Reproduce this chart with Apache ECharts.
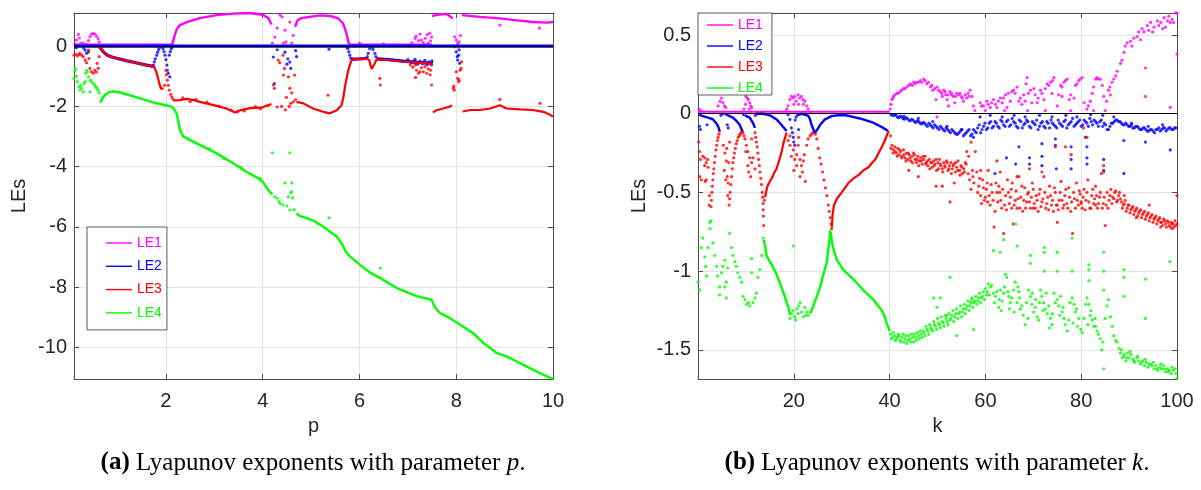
<!DOCTYPE html>
<html><head><meta charset="utf-8">
<script src="https://cdn.jsdelivr.net/npm/echarts@6/dist/echarts.min.js"></script>
<style>html,body{margin:0;padding:0;background:#fff}#c{width:1201px;height:490px}</style>
</head><body><div id="c"></div>
<script>
// ---------- tick labels ----------
const pXTicks = [2, 4, 6, 8, 10];
const pYTicks = [-10, -8, -6, -4, -2, 0];
const kXTicks = [20, 40, 60, 80, 100];
const kYTicks = [-1.5, -1, -0.5, 0, 0.5];
const seriesNames = ['LE1', 'LE2', 'LE3', 'LE4'];
const captionA = '{b|(a)} Lyapunov exponents with parameter {i|p}.';
const captionB = '{b|(b)} Lyapunov exponents with parameter {i|k}.';

// ---------- chart (a): parameter p ----------
const pLE1Curves = [
  [[0.1,0.05],[2.13,0.05]],
  [[2.13,0.05],[2.17,0.3],[2.22,0.55],[2.29,0.7],[2.43,0.8],[2.7,0.93],[3.05,1.03],[3.38,1.08],[3.74,1.1],[4.0,1.04],[4.12,0.93],[4.18,0.72]],
  [[4.67,0.64],[4.72,0.86],[4.8,0.93],[5.0,0.98],[5.2,1.02],[5.4,1.0],[5.56,0.92],[5.66,0.76],[5.73,0.43],[5.77,0.14],[5.8,0.05]],
  [[5.8,0.05],[7.5,0.05]],
  [[7.5,1.0],[7.6,1.04],[7.8,1.07],[7.87,0.99],[7.93,0.92]],
  [[8.12,1.03],[8.49,0.97],[8.9,0.92],[9.17,0.87],[9.58,0.8],[9.87,0.78],[10,0.8]]
];
const pLE1Dots = [[0.12,0.08],[0.15,0.2],[0.19,0.39],[0.21,0.27],[0.24,0.1],[0.29,0.1],[0.35,0.06],[0.4,0.18],[0.43,0.31],[0.46,0.4],[0.5,0.42],[0.53,0.4],[0.57,0.33],[0.6,0.25],[0.62,0.14],
  [4.2,0.1],[4.25,0.3],[4.3,0.6],[4.36,1.03],[4.4,0.97],[4.46,0.53],[4.48,0.14],[4.43,0.1],[4.6,0.1],[4.63,0.36],[4.56,0.8],
  [6.0,0.1],[6.5,0.08],[7.08,0.11],[7.15,0.26],[7.17,0.33],[7.22,0.18],[7.28,0.2],[7.32,0.12],[7.36,0.26],[7.4,0.38],[7.45,0.43],[7.47,0.17],[7.42,0.1],[7.49,0.3],[7.25,0.4],
  [7.97,0.31],[8.0,0.2],[8.03,0.09],[8.06,0.14],[8.09,0.35],[8.9,0.7],[9.72,0.6]];

const pLE2Curves = [
  [[0.1,0],[10,0]],
  [[0.62,-0.01],[0.68,-0.14],[0.74,-0.24],[0.8,-0.31],[0.9,-0.37],[1.0,-0.41],[1.2,-0.49],[1.4,-0.56],[1.6,-0.63],[1.74,-0.67]],
  [[5.84,-0.43],[6.0,-0.42],[6.14,-0.41]],
  [[6.35,-0.42],[6.6,-0.45],[6.9,-0.5],[7.2,-0.54],[7.52,-0.57]]
];
const pLE2Dots = [[0.15,-0.05],[0.3,-0.06],[0.33,-0.13],[0.36,-0.24],[0.4,-0.19],
  [1.74,-0.63],[1.76,-0.52],[1.78,-0.42],[1.81,-0.3],[1.83,-0.2],[1.85,-0.11],[1.88,-0.03],[1.91,-0.01],[1.94,-0.08],[1.96,-0.18],[1.98,-0.3],[2.0,-0.45],[2.02,-0.63],[2.03,-0.8],[2.05,-0.9],[2.08,-1.02],[2.07,-0.3],[2.09,-0.18],[2.11,-0.08],[2.13,-0.03],
  [4.22,-0.36],[4.24,-1.24],[4.3,-0.12],[4.46,-0.2],[4.5,-0.6],[4.56,-0.53],[4.58,-0.74],[4.52,-0.42],[4.7,-0.35],[4.68,-0.15],[5.37,-0.1],
  [5.74,-0.03],[5.76,-0.08],[5.78,-0.19],[5.8,-0.3],[5.82,-0.4],
  [6.16,-0.35],[6.18,-0.24],[6.21,-0.08],[6.25,-0.02],[6.28,-0.11],[6.32,-0.24],[6.34,-0.35],
  [7.0,-0.45],[7.08,-0.55],[7.15,-0.44],[7.2,-0.6],[7.25,-0.5],[7.3,-0.58],[7.35,-0.47],[7.4,-0.62],[7.44,-0.52],[7.48,-0.6],[7.5,-0.49],[7.38,-0.56],[7.12,-0.5],
  [7.97,-0.02],[8.0,-0.19],[8.02,-0.35],[8.03,-0.46],[8.05,-0.3],[8.07,-0.57],[8.06,-0.12]];

const pLE3Curves = [
  [[0.62,-0.01],[0.68,-0.14],[0.74,-0.24],[0.8,-0.31],[0.9,-0.37],[1.0,-0.41],[1.2,-0.49],[1.4,-0.56],[1.6,-0.63],[1.76,-0.69],[1.8,-0.86],[1.84,-1.08],[1.87,-1.27],[1.9,-1.42],[1.92,-1.46],[1.95,-1.4]],
  [[2.15,-1.8],[2.29,-1.79],[2.43,-1.75],[2.57,-1.79],[2.7,-1.85],[2.97,-1.95],[3.25,-2.07],[3.43,-2.2],[3.53,-2.13],[3.74,-2.06],[4.0,-2.03],[4.18,-1.92]],
  [[4.7,-1.85],[4.84,-1.9],[5.04,-2.07],[5.25,-2.18],[5.39,-2.23],[5.53,-2.13],[5.63,-1.96],[5.67,-1.68],[5.7,-1.35],[5.74,-1.02],[5.77,-0.8],[5.8,-0.63],[5.84,-0.45],[6.0,-0.42],[6.14,-0.41],[6.2,-0.46],[6.25,-0.76],[6.28,-0.8],[6.32,-0.57],[6.35,-0.44],[6.6,-0.46],[6.9,-0.51],[7.2,-0.55],[7.52,-0.59]],
  [[7.52,-2.2],[7.59,-2.13],[7.73,-2.07],[7.87,-2.01],[7.91,-1.96]],
  [[8.13,-2.17],[8.3,-2.12],[8.49,-2.12],[8.7,-2.07],[8.9,-1.96],[9.04,-2.07],[9.32,-2.1],[9.59,-2.12],[9.8,-2.18],[9.94,-2.28],[10,-2.34]]
];
const pLE3Dots = [[0.1,-0.3],[0.13,-0.27],[0.17,-0.32],[0.2,-0.28],[0.22,-0.24],[0.26,-0.3],[0.29,-0.35],[0.33,-0.46],[0.36,-0.55],[0.4,-0.13],[0.41,-0.41],[0.43,-0.74],[0.46,-0.85],[0.5,-0.9],[0.53,-0.8],[0.56,-0.86],[0.6,-0.74],[0.58,-0.57],[0.62,-0.35],
  [1.97,-1.3],[2.0,-0.8],[2.01,-0.95],[2.03,-1.13],[2.05,-1.3],[2.07,-1.46],[2.1,-1.6],[2.12,-1.68],[2.14,-1.75],
  [2.35,-1.72],[2.5,-1.84],[2.62,-1.77],[2.85,-1.86],[3.1,-1.99],[3.35,-2.12],[3.48,-2.18],[3.62,-2.15],[3.85,-2.01],[3.95,-2.08],[4.1,-1.98],
  [4.22,-1.29],[4.24,-1.4],[4.3,-2.02],[4.32,-0.46],[4.35,-0.55],[4.39,-2.0],[4.43,-0.96],[4.45,-0.74],[4.47,-2.12],[4.49,-1.7],[4.53,-1.02],[4.55,-2.0],[4.56,-1.4],[4.6,-1.55],[4.63,-1.85],[4.66,-0.96],[4.68,-1.78],[4.42,-0.3],[4.58,-1.9],
  [5.35,-1.63],[6.42,-1.07],[6.43,-1.29],
  [7.05,-0.62],[7.1,-0.7],[7.15,-0.63],[7.16,-1.04],[7.18,-0.8],[7.22,-0.9],[7.25,-0.85],[7.28,-0.72],[7.32,-0.85],[7.35,-0.68],[7.39,-0.9],[7.42,-0.75],[7.46,-0.95],[7.49,-0.63],[7.49,-1.29],[7.47,-0.8],
  [7.94,-1.4],[7.96,-1.46],[7.95,-1.33],[8.0,-0.85],[8.03,-1.07],[8.06,-1.13],[8.05,-1.18],[8.08,-0.8],[8.11,-0.52],[8.1,-0.74],
  [8.9,-1.77],[9.73,-1.9]];

const pLE4Curves = [
  [[0.64,-1.88],[0.7,-1.7],[0.77,-1.58],[0.84,-1.52],[0.91,-1.5],[1.05,-1.54],[1.4,-1.7],[1.74,-1.87],[2.08,-1.99],[2.15,-2.05],[2.19,-2.1],[2.22,-2.23],[2.25,-2.45],[2.29,-2.79],[2.36,-3.0],[2.5,-3.12],[2.7,-3.28],[3.05,-3.56],[3.38,-3.88],[3.67,-4.18],[3.85,-4.33],[4.0,-4.5],[4.08,-4.7],[4.15,-4.84],[4.2,-4.92]],
  [[4.7,-5.55],[4.77,-5.64],[4.91,-5.71],[5.04,-5.79],[5.25,-5.99],[5.39,-6.16],[5.53,-6.32],[5.63,-6.54],[5.7,-6.77],[5.77,-6.93],[6.01,-7.26],[6.22,-7.52],[6.43,-7.7],[6.77,-8.03],[7.18,-8.3],[7.49,-8.42],[7.51,-8.48],[7.55,-8.64],[7.66,-8.86],[7.87,-9.03],[8.14,-9.31],[8.35,-9.53],[8.56,-9.85],[8.83,-10.18],[9.04,-10.3],[9.25,-10.47],[9.52,-10.69],[9.8,-10.91],[10,-11.05]]
];
const pLE4Dots = [[0.1,-1.07],[0.12,-0.8],[0.13,-0.74],[0.15,-1.0],[0.17,-1.18],[0.2,-1.35],[0.22,-1.46],[0.24,-1.3],[0.26,-1.4],[0.29,-1.52],[0.31,-1.24],[0.33,-1.18],[0.34,-0.9],[0.36,-0.8],[0.38,-0.85],[0.4,-1.02],[0.43,-1.52],[0.44,-1.13],[0.46,-1.18],[0.5,-1.24],[0.53,-1.29],[0.55,-1.35],[0.57,-1.4],[0.6,-1.46],[0.62,-1.55],
  [2.45,-3.06],[2.9,-3.4],[3.2,-3.74],[3.55,-4.02],[3.95,-4.4],
  [4.2,-3.54],[4.56,-3.54],[4.46,-4.54],[4.6,-4.54],[4.58,-4.87],[4.6,-4.83],[4.62,-5.04],[4.36,-5.22],[4.42,-5.27],[4.3,-5.05],[4.53,-5.0],[4.5,-5.3],[4.56,-5.44],[4.65,-5.43],[4.25,-5.0],[4.33,-5.15],
  [5.37,-5.7],[6.43,-7.37]];

// ---------- chart (b): parameter k ----------
const kLE1Curves = [[[0,0.012],[40,0.012]]];
const kLE1Dots = [[0.2,0.03],[0.6,0.02],[4.2,0.05],[4.6,0.08],[4.9,0.1],[5.2,0.07],[5.5,0.05],[5.8,0.04],[9.6,0.03],[9.9,0.06],[10.0,0.11],[10.3,0.1],[10.5,0.09],[10.8,0.07],[11.0,0.05],[11.2,0.04],[10.7,0.03],
  [18.5,0.03],[18.8,0.05],[19.2,0.09],[19.5,0.11],[19.8,0.1],[20.2,0.11],[20.5,0.08],[20.9,0.12],[21.2,0.1],[21.6,0.11],[21.9,0.09],[22.3,0.08],[22.7,0.05],[23.0,0.03],[20.0,0.06],[21.0,0.06],[22.0,0.06],
  [40.1,0.03],[40.5,0.09],[40.8,0.11],[41.5,0.13],[42.2,0.14],[42.9,0.16],[43.6,0.17],[44.3,0.19],[45.0,0.2],[45.7,0.2],[46.4,0.21],[47.1,0.22],[47.8,0.19],[48.5,0.17],[49.0,0.15],[49.7,0.09],[49.9,0.17],[50.6,0.14],[51.0,0.11],[51.3,0.15],[51.7,0.12],[52.0,0.09],[52.3,0.05],[52.6,0.14],[53.0,0.12],[53.3,0.11],[53.6,0.07],[54.0,0.13],[54.7,0.13],[55.0,0.11],[55.4,0.08],[56.1,0.1],[56.4,0.13],[56.8,0.15],[57.2,0.11],[57.5,0.05],[57.8,0.02],[49.9,-0.02],
  [40.3,0.06],[40.7,0.1],[41.1,0.12],[41.8,0.13],[42.5,0.15],[43.2,0.16],[44.0,0.18],[44.7,0.18],[45.3,0.19],[46.0,0.2],[46.7,0.2],[47.4,0.21],[48.1,0.2],[48.8,0.18],[49.4,0.16],[50.2,0.15],[50.9,0.13],[51.6,0.14],[52.2,0.12],[52.9,0.13],[53.8,0.11],[54.4,0.12],[55.2,0.1],[55.8,0.12],[56.6,0.11],
  [58.9,0.07],[59.6,0.05],[60.3,0.08],[61.0,0.04],[61.7,0.09],[62.1,0.06],[62.4,0.04],[63.1,0.1],[63.5,0.07],[64.2,0.12],[64.5,0.04],[65.2,0.08],[65.9,0.15],[66.2,0.13],[66.6,0.17],[67.3,0.1],[67.6,0.06],[68.0,0.12],[68.3,0.08],[68.7,0.23],[69.4,0.15],[69.7,0.07],[70.1,0.16],[70.8,0.07],[71.5,0.15],[72.2,0.09],[72.9,0.19],[73.6,0.2],[73.9,0.13],[74.3,0.23],[75.0,0.05],[75.7,0.18],[76.0,0.11],[76.4,0.2],[77.1,0.22],[77.5,0.09],[78.5,0.1],[78.8,0.18],[79.5,0.21],[80.2,0.23],[80.6,0.07],[81.2,0.03],[81.9,0.08],[82.3,0.13],[83.0,0.22],[83.3,0.23],[84.0,0.22],[84.4,0.18],[84.7,0.11],[85.0,0.02],[85.7,0.15],[86.1,0.12],[86.4,0.2],[86.8,0.22],
  [59.2,0.05],[60.6,0.06],[61.3,0.07],[62.7,0.08],[63.8,0.1],[64.8,0.13],[65.5,0.14],[67.0,0.08],[68.5,0.19],[69.0,0.13],[70.4,0.12],[71.0,0.1],[71.8,0.13],[72.5,0.16],[73.2,0.18],[74.0,0.21],[75.3,0.12],[76.0,0.17],[76.7,0.21],[77.8,0.12],[79.1,0.19],[79.8,0.22],[81.5,0.05],[82.6,0.17],[83.6,0.22],[85.3,0.08],[86.0,0.17],
  [60.0,0.02],[64.0,0.02],[68.8,0.02],[72.5,0.02],[77.8,0.02],[82.6,0.02],
  [87.2,0.24],[87.5,0.27],[88.2,0.32],[88.5,0.34],[88.9,0.39],[89.2,0.43],[89.6,0.45],[90.3,0.46],[90.6,0.43],[91.0,0.48],[91.7,0.49],[92.0,0.52],[92.4,0.47],[92.7,0.54],[93.1,0.52],[93.8,0.56],[94.1,0.53],[94.5,0.58],[94.9,0.52],[95.2,0.55],[95.9,0.59],[96.2,0.56],[96.6,0.58],[97.0,0.54],[97.3,0.61],[97.6,0.55],[98.0,0.59],[98.3,0.62],[98.6,0.58],[99.0,0.6],[99.3,0.58],[99.7,0.64],[100,0.64],
  [93.4,0.29],[93.4,0.11],[98.6,0.04],[100,0.38]];

const kLE2Curves = [
  [[0.2,-0.005],[1.0,-0.015],[2.1,-0.025],[3.1,-0.035],[3.8,-0.06],[4.2,-0.08],[4.5,-0.11]],
  [[5.6,0],[6.6,-0.015],[7.3,-0.025],[8.0,-0.045],[8.7,-0.07],[9.1,-0.1],[9.3,-0.11]],
  [[9.8,-0.01],[10.8,-0.025],[11.5,-0.06],[11.9,-0.09]],
  [[12.2,0],[13.6,0],[15.0,-0.01],[16.4,-0.036],[17.4,-0.07],[18.1,-0.095],[18.5,-0.11]],
  [[20.6,-0.01],[21.6,0],[22.3,-0.005],[23.1,-0.015],[23.4,-0.036],[23.7,-0.07],[24.1,-0.1],[24.4,-0.12]],
  [[24.4,-0.12],[24.8,-0.105],[25.5,-0.07],[26.5,-0.036],[27.9,-0.015],[29.0,-0.01],[31.0,-0.01],[33.8,-0.03],[36.6,-0.057],[38.7,-0.09],[39.7,-0.11]]
];
const kLE2Dots = [[0.3,-0.08],[0.5,-0.1],[1.9,-0.07],[6.1,-0.07],[6.3,-0.09],[4.8,-0.01],[5.2,0],[9.5,-0.005],[12.0,-0.01],
  [18.8,-0.005],[19.2,-0.036],[19.5,-0.09],[19.7,-0.12],[19.9,-0.15],[20.0,-0.18],[20.2,-0.2],[20.3,-0.04],[20.5,-0.02],[21.0,-0.1],
  [40.3,-0.005],[41.0,-0.01],[41.6,-0.02],[42.2,-0.015],[42.8,-0.03],[43.4,-0.025],[44.0,-0.04],[44.6,-0.035],[45.2,-0.05],[45.8,-0.045],[46.4,-0.06],[47.0,-0.055],[47.6,-0.07],[48.2,-0.06],[48.8,-0.08],[49.4,-0.07],[50.0,-0.09],[50.6,-0.08],[51.2,-0.1],[51.8,-0.09],[52.4,-0.11],[53.0,-0.1],[53.6,-0.12],[54.2,-0.13],[54.8,-0.11],[55.4,-0.14],[56.0,-0.12],[56.6,-0.1],[57.2,-0.13],[57.8,-0.11],[58.4,-0.09],[59.0,-0.12],[59.6,-0.08],[60.2,-0.1],[60.8,-0.06],[61.4,-0.09],[62.0,-0.05],[62.6,-0.08],[63.2,-0.04],[63.8,-0.07],[64.4,-0.05],[65.0,-0.08],[65.6,-0.03],[66.2,-0.06],[66.8,-0.09],[67.4,-0.05],[68.0,-0.07],[68.6,-0.04],[69.2,-0.08],[69.8,-0.05],[70.4,-0.07],[71.0,-0.1],[71.6,-0.06],[72.2,-0.08],[72.8,-0.05],[73.4,-0.09],[74.0,-0.06],[74.6,-0.08],[75.2,-0.04],[75.8,-0.07],[76.4,-0.05],[77.0,-0.09],[77.6,-0.06],[78.2,-0.03],[78.8,-0.07],[79.4,-0.05],[80.0,-0.08],[80.6,-0.04],[81.2,-0.06],[81.8,-0.03],[82.4,-0.07],[83.0,-0.05],[83.6,-0.08],[84.2,-0.04],[84.8,-0.06],[85.4,-0.1],[86.0,-0.08],[86.6,-0.06],[87.2,-0.04],[87.8,-0.05],[88.4,-0.06],[89.0,-0.07],[89.6,-0.07],[90.2,-0.08],[90.8,-0.09],[91.4,-0.08],[92.0,-0.09],[92.6,-0.1],[93.2,-0.09],[93.8,-0.11],[94.4,-0.1],[95.0,-0.11],[95.6,-0.1],[96.2,-0.09],[96.8,-0.1],[97.4,-0.09],[98.0,-0.1],[98.6,-0.09],[99.2,-0.1],[99.8,-0.09],
  [40.6,-0.01],[41.3,-0.005],[41.9,-0.025],[42.5,-0.02],[43.1,-0.035],[43.7,-0.03],[44.3,-0.045],[44.9,-0.04],[45.5,-0.055],[46.1,-0.05],[46.7,-0.065],[47.3,-0.06],[47.9,-0.08],[48.5,-0.07],[49.1,-0.09],[49.7,-0.08],[50.3,-0.1],[50.9,-0.09],[51.5,-0.11],[52.1,-0.1],[52.7,-0.12],[53.3,-0.11],[53.9,-0.13],[54.5,-0.12],[55.1,-0.1],[55.7,-0.13],[56.3,-0.11],[56.9,-0.14],[57.5,-0.1],[58.1,-0.12],[58.7,-0.07],[59.3,-0.1],[59.9,-0.06],[60.5,-0.09],[61.1,-0.05],[61.7,-0.08],[62.3,-0.06],[62.9,-0.09],[63.5,-0.05],[64.1,-0.08],[64.7,-0.04],[65.3,-0.07],[65.9,-0.05],[66.5,-0.08],[67.1,-0.04],[67.7,-0.09],[68.3,-0.06],[68.9,-0.05],[69.5,-0.09],[70.1,-0.06],[70.7,-0.04],[71.3,-0.08],[71.9,-0.05],[72.5,-0.09],[73.1,-0.06],[73.7,-0.04],[74.3,-0.07],[74.9,-0.09],[75.5,-0.06],[76.1,-0.08],[76.7,-0.04],[77.3,-0.07],[77.9,-0.05],[78.5,-0.08],[79.1,-0.06],[79.7,-0.04],[80.3,-0.07],[80.9,-0.05],[81.5,-0.08],[82.1,-0.05],[82.7,-0.04],[83.3,-0.06],[83.9,-0.05],[84.5,-0.08],[85.1,-0.07],[85.7,-0.1],[86.3,-0.06],[86.9,-0.05],[87.5,-0.04],[88.1,-0.05],[88.7,-0.07],[89.3,-0.06],[89.9,-0.08],[90.5,-0.07],[91.1,-0.09],[91.7,-0.08],[92.3,-0.1],[92.9,-0.09],[93.5,-0.1],[94.1,-0.11],[94.7,-0.1],[95.3,-0.12],[95.9,-0.1],[96.5,-0.11],[97.1,-0.09],[97.7,-0.11],[98.3,-0.09],[98.9,-0.1],[99.5,-0.09],
  [43.0,-0.015],[46.0,-0.03],[49.0,-0.05],[52.0,-0.08],[55.0,-0.1],[58.9,-0.02],[61.0,-0.01],[63.5,-0.02],[66.0,-0.01],[68.3,-0.02],[71.3,-0.01],[73.9,-0.02],[76.8,-0.01],[79.1,-0.02],[82.0,-0.005],[84.5,-0.01],[86.8,-0.02],[90.5,-0.06],[94.0,-0.08],[97.0,-0.07],
  [57.5,-0.15],[62.0,-0.38],[64.4,-0.28],[66.3,-0.32],[67.0,-0.21],[69.2,-0.28],[69.2,-0.32],[71.8,-0.19],[71.8,-0.27],[71.8,-0.33],[74.6,-0.16],[74.6,-0.2],[74.8,-0.35],[77.9,-0.21],[77.9,-0.29],[77.9,-0.35],[80.9,-0.15],[81.2,-0.21],[81.2,-0.28],[81.2,-0.32],[84.7,-0.29],[84.7,-0.36],[88.9,-0.17],[88.9,-0.38],[93.4,-0.18],[98.6,-0.23]];

const kLE3Curves = [
  [[14.0,-0.53],[14.4,-0.47],[14.8,-0.44],[15.4,-0.41],[16.0,-0.37],[16.4,-0.35],[16.9,-0.3],[17.4,-0.25],[17.8,-0.19],[18.1,-0.16],[18.5,-0.12]],
  [[27.95,-0.72],[28.1,-0.64],[28.4,-0.58],[29.0,-0.54],[30.0,-0.5],[31.4,-0.44],[32.5,-0.41],[33.5,-0.39],[34.5,-0.36],[35.6,-0.34],[36.4,-0.31],[37.0,-0.29],[37.7,-0.25],[38.4,-0.21],[39.0,-0.17],[39.4,-0.14],[39.8,-0.11]]
];
const kLE3Dots = [[0.15,-0.18],[0.3,-0.24],[0.35,-0.4],[0.5,-0.29],[0.7,-0.42],[1.0,-0.27],[1.4,-0.28],[1.4,-0.33],[1.7,-0.31],[1.7,-0.42],[2.1,-0.34],[2.0,-0.29],[1.5,-0.43],[2.3,-0.58],[2.4,-0.52],
  [2.7,-0.59],[2.8,-0.55],[2.9,-0.5],[3.0,-0.46],[3.1,-0.42],[3.2,-0.38],[3.3,-0.35],[3.45,-0.31],[3.6,-0.27],[3.75,-0.23],[3.9,-0.2],[4.05,-0.17],[4.2,-0.15],[4.35,-0.13],[4.5,-0.11],
  [5.3,-0.2],[5.6,-0.25],[5.5,-0.36],[5.9,-0.3],[6.1,-0.4],[6.3,-0.44],[6.4,-0.31],[6.6,-0.18],[6.2,-0.52],[6.0,-0.22],[5.8,-0.42],
  [6.5,-0.58],[6.6,-0.54],[6.7,-0.5],[6.85,-0.45],[7.0,-0.4],[7.15,-0.35],[7.3,-0.31],[7.45,-0.28],[7.6,-0.25],[7.8,-0.22],[8.0,-0.19],[8.2,-0.17],[8.4,-0.15],[8.6,-0.14],[8.8,-0.13],[9.0,-0.12],[9.2,-0.11],
  [9.4,-0.12],[9.6,-0.14],[9.8,-0.16],[10.1,-0.2],[10.4,-0.24],[10.8,-0.28],[11.2,-0.31],[10.0,-0.24],[10.4,-0.33],[11.5,-0.28],[11.9,-0.35],[11.2,-0.16],[10.6,-0.37],[11.0,-0.4],
  [11.9,-0.12],[12.05,-0.15],[12.2,-0.18],[12.35,-0.21],[12.5,-0.25],[12.65,-0.29],[12.8,-0.33],[12.95,-0.37],[13.1,-0.41],[13.25,-0.45],[13.4,-0.5],[13.5,-0.53],[13.6,-0.57],[13.62,-0.61],[13.65,-0.65],[13.7,-0.71],[13.85,-0.55],
  [18.8,-0.17],[19.2,-0.2],[19.5,-0.27],[19.9,-0.23],[20.2,-0.29],[20.6,-0.33],[20.6,-0.26],[20.9,-0.2],[21.3,-0.29],[21.6,-0.33],[21.8,-0.37],[22.0,-0.3],[22.2,-0.26],[21.3,-0.4],[22.7,-0.2],[23.0,-0.16],[23.4,-0.14],[23.7,-0.13],[24.0,-0.12],[19.2,-0.14],[20.0,-0.36],[22.4,-0.43],[21.0,-0.15],
  [24.5,-0.13],[24.8,-0.16],[25.1,-0.22],[25.4,-0.28],[25.7,-0.32],[26.0,-0.37],[26.3,-0.42],[26.6,-0.47],[26.9,-0.52],[27.2,-0.58],[27.4,-0.62],[27.6,-0.66],[27.8,-0.7],[27.9,-0.73],
  [40.2,-0.14],[40.5,-0.2],[40.8,-0.23],[41.1,-0.21],[41.4,-0.25],[41.7,-0.22],[42.0,-0.26],[42.3,-0.24],[42.6,-0.27],[42.9,-0.23],[43.2,-0.28],[43.5,-0.25],[43.8,-0.29],[44.1,-0.26],[44.4,-0.3],[44.7,-0.27],[45.0,-0.25],[45.3,-0.29],[45.6,-0.31],[45.9,-0.27],[46.2,-0.3],[46.5,-0.28],[46.8,-0.32],[47.1,-0.29],[47.4,-0.27],[47.7,-0.31],[48.0,-0.33],[48.3,-0.29],[48.6,-0.31],[48.9,-0.34],[49.2,-0.3],[49.5,-0.32],[49.8,-0.36],[50.1,-0.31],[50.4,-0.29],[50.7,-0.33],[51.0,-0.35],[51.3,-0.31],[51.6,-0.34],[51.9,-0.3],[52.2,-0.36],[52.5,-0.33],[52.8,-0.31],[53.1,-0.35],[53.4,-0.32],[53.7,-0.37],[54.0,-0.34],[54.3,-0.3],[54.6,-0.36],[54.9,-0.33],[55.2,-0.38],[55.5,-0.35],[55.8,-0.31],[56.1,-0.24],[56.4,-0.38],[56.7,-0.42],[57.0,-0.18],[57.3,-0.36],[57.6,-0.44],[57.9,-0.24],
  [40.3,-0.22],[40.7,-0.25],[41.2,-0.24],[41.6,-0.27],[42.1,-0.23],[42.5,-0.28],[43.0,-0.26],[43.4,-0.3],[43.9,-0.25],[44.3,-0.28],[44.8,-0.31],[45.2,-0.26],[45.7,-0.29],[46.1,-0.33],[46.6,-0.3],[47.0,-0.27],[47.5,-0.32],[47.9,-0.3],[48.4,-0.35],[48.8,-0.31],[49.3,-0.33],[49.7,-0.29],[50.2,-0.35],[50.6,-0.32],[51.1,-0.37],[51.5,-0.33],[52.0,-0.31],[52.4,-0.35],[52.9,-0.38],[53.3,-0.33],[53.8,-0.31],[54.2,-0.36],[54.7,-0.39],[55.1,-0.34],[55.6,-0.37],[56.0,-0.32],[56.5,-0.27],[57.4,-0.4],
  [49.7,-0.46],[51.0,-0.46],[52.6,-0.56],[53.5,-0.44],[46.0,-0.4],[44.0,-0.36],[57.0,-0.48],
  [58.2,-0.37],[58.6,-0.46],[59.0,-0.52],[59.4,-0.42],[59.8,-0.55],[60.2,-0.48],[60.6,-0.36],[61.0,-0.58],[61.4,-0.5],[61.8,-0.72],[62.2,-0.44],[62.6,-0.56],[63.0,-0.5],[63.4,-0.6],[63.8,-0.76],[64.2,-0.52],[64.6,-0.42],[65.0,-0.57],[65.4,-0.48],[65.8,-0.7],[66.2,-0.55],[66.6,-0.6],[67.0,-0.4],[67.4,-0.53],[67.8,-0.62],[68.2,-0.47],[68.6,-0.56],[69.0,-0.5],[69.4,-0.6],[69.8,-0.44],[70.2,-0.57],[70.6,-0.52],[71.0,-0.62],[71.4,-0.48],[71.8,-0.56],[72.2,-0.4],[72.6,-0.6],[73.0,-0.53],[73.4,-0.46],[73.8,-0.58],[74.2,-0.62],[74.6,-0.5],[75.0,-0.69],[75.4,-0.55],[75.8,-0.43],[76.2,-0.6],[76.6,-0.52],[77.0,-0.57],[77.4,-0.47],[77.8,-0.62],[78.2,-0.76],[78.6,-0.54],[79.0,-0.44],[79.4,-0.58],[79.8,-0.51],[80.2,-0.6],[80.6,-0.48],[81.0,-0.55],[81.4,-0.42],[81.8,-0.6],[82.2,-0.52],[82.6,-0.57],[83.0,-0.46],[83.4,-0.6],[83.8,-0.53],[84.2,-0.38],[84.6,-0.57],[85.0,-0.71],[85.4,-0.5],[85.8,-0.55],[86.2,-0.48],[86.6,-0.53],[87.0,-0.5],[87.4,-0.56],[87.8,-0.52],
  [58.4,-0.5],[58.8,-0.41],[59.2,-0.57],[59.6,-0.47],[60.0,-0.53],[60.4,-0.44],[60.8,-0.52],[61.2,-0.45],[61.6,-0.55],[62.0,-0.62],[62.4,-0.5],[62.8,-0.46],[63.2,-0.55],[63.6,-0.48],[64.0,-0.58],[64.4,-0.61],[64.8,-0.5],[65.2,-0.53],[65.6,-0.44],[66.0,-0.58],[66.4,-0.49],[66.8,-0.54],[67.2,-0.6],[67.6,-0.46],[68.0,-0.55],[68.4,-0.6],[68.8,-0.51],[69.2,-0.56],[69.6,-0.53],[70.0,-0.48],[70.4,-0.6],[70.8,-0.55],[71.2,-0.51],[71.6,-0.59],[72.0,-0.54],[72.4,-0.5],[72.8,-0.57],[73.2,-0.61],[73.6,-0.52],[74.0,-0.55],[74.4,-0.47],[74.8,-0.58],[75.2,-0.61],[75.6,-0.5],[76.0,-0.55],[76.4,-0.58],[76.8,-0.48],[77.2,-0.6],[77.6,-0.53],[78.0,-0.56],[78.4,-0.5],[78.8,-0.6],[79.2,-0.55],[79.6,-0.49],[80.0,-0.57],[80.4,-0.53],[80.8,-0.61],[81.2,-0.5],[81.6,-0.56],[82.0,-0.6],[82.4,-0.48],[82.8,-0.54],[83.2,-0.52],[83.6,-0.57],[84.0,-0.5],[84.4,-0.6],[84.8,-0.53],[85.2,-0.58],[85.6,-0.6],[86.0,-0.52],[86.4,-0.57],[86.8,-0.54],[87.2,-0.49],[87.6,-0.55],
  [63.1,-0.37],[66.6,-0.4],[71.8,-0.37],[74.6,-0.21],[76.7,-0.21],[77.9,-0.26],[80.5,-0.09],[81.2,-0.15],[84.7,-0.37],[84.7,-0.33],[69.2,-0.35],[62.4,-0.3],[59.0,-0.36],[60.5,-0.56],[65.5,-0.6],[70.0,-0.6],[75.0,-0.58],[80.0,-0.56],[83.0,-0.58],
  [88.0,-0.5],[88.4,-0.56],[88.8,-0.58],[89.2,-0.55],[89.6,-0.6],[90.0,-0.58],[90.4,-0.61],[90.8,-0.59],[91.2,-0.62],[91.6,-0.6],[92.0,-0.63],[92.4,-0.61],[92.8,-0.64],[93.2,-0.62],[93.6,-0.65],[94.0,-0.63],[94.4,-0.66],[94.8,-0.64],[95.2,-0.67],[95.6,-0.65],[96.0,-0.68],[96.4,-0.66],[96.8,-0.69],[97.2,-0.67],[97.6,-0.7],[98.0,-0.68],[98.4,-0.71],[98.8,-0.69],[99.2,-0.7],[99.6,-0.68],[100,-0.7],[100,-0.52],[89.0,-0.52],[91.5,-0.66],[94.2,-0.58],[96.6,-0.72],[99.0,-0.73],
  [88.2,-0.54],[88.6,-0.6],[89.0,-0.57],[89.4,-0.62],[89.8,-0.58],[90.2,-0.63],[90.6,-0.6],[91.0,-0.64],[91.4,-0.61],[91.8,-0.65],[92.2,-0.62],[92.6,-0.66],[93.0,-0.63],[93.4,-0.67],[93.8,-0.64],[94.2,-0.68],[94.6,-0.65],[95.0,-0.69],[95.4,-0.66],[95.8,-0.7],[96.2,-0.67],[96.6,-0.69],[97.0,-0.71],[97.4,-0.68],[97.8,-0.72],[98.2,-0.69],[98.6,-0.72],[99.0,-0.7],[99.4,-0.72],[99.8,-0.71]];

const kLE4Curves = [
  [[13.7,-0.8],[14.0,-0.84],[14.3,-0.9],[14.8,-0.93],[15.4,-0.96],[16.4,-1.02],[17.4,-1.1],[18.0,-1.15],[18.5,-1.2],[18.8,-1.22],[19.2,-1.28]],
  [[23.5,-1.27],[23.7,-1.25],[24.8,-1.16],[25.5,-1.1],[26.2,-1.02],[26.9,-0.94],[27.2,-0.86],[27.5,-0.79],[27.6,-0.74]],
  [[27.7,-0.75],[28.0,-0.82],[28.2,-0.85],[29.0,-0.93],[30.3,-0.99],[32.4,-1.05],[34.5,-1.12],[36.6,-1.18],[37.6,-1.22],[38.4,-1.25],[39.0,-1.29],[39.4,-1.33],[40.0,-1.38]]
];
const kLE4Dots = [[0,-1.07],[0.35,-1.12],[0.7,-0.85],[1.0,-0.79],[1.4,-0.91],[1.6,-0.97],[1.8,-1.03],[2.1,-0.85],[2.5,-0.69],[2.7,-0.68],[2.5,-0.73],[3.1,-0.82],[3.5,-0.9],[3.9,-0.97],[4.1,-1.03],[4.5,-1.1],[4.5,-1.15],[4.9,-1.01],[5.2,-0.97],[5.6,-0.93],[5.9,-1.07],[5.9,-1.17],[5.6,-1.1],[6.2,-0.98],[6.6,-0.76],[7.0,-0.85],[7.3,-0.9],[7.7,-0.94],[8.0,-0.97],[8.3,-1.01],[8.7,-1.04],[9.1,-1.07],[9.4,-1.16],[9.8,-1.18],[10.1,-1.21],[10.5,-1.2],[10.8,-1.22],[11.5,-1.2],[11.9,-1.17],[11.2,-1.01],[11.2,-0.92],[12.2,-1.14],[12.5,-1.04],[12.9,-0.99],[13.3,-0.9],[13.6,-0.79],
  [19.2,-1.3],[19.5,-1.27],[19.8,-1.25],[20.2,-1.29],[20.6,-1.24],[20.9,-1.27],[21.3,-1.2],[21.6,-1.26],[22.0,-1.29],[22.3,-1.23],[22.7,-1.26],[23.0,-1.28],[23.4,-1.26],[19.9,-0.84],[21.0,-1.22],[20.4,-1.31],[22.5,-1.28],
  [40.2,-1.4],[40.6,-1.42],[41.0,-1.41],[41.4,-1.43],[41.8,-1.4],[42.2,-1.44],[42.6,-1.42],[43.0,-1.45],[43.4,-1.41],[43.8,-1.44],[44.2,-1.43],[44.6,-1.4],[45.0,-1.45],[45.4,-1.42],[45.8,-1.39],[46.2,-1.43],[46.6,-1.4],[47.0,-1.38],[47.4,-1.41],[47.8,-1.37],[48.2,-1.4],[48.6,-1.36],[49.0,-1.38],[49.4,-1.34],[49.8,-1.37],[50.2,-1.33],[50.6,-1.36],[51.0,-1.32],[51.4,-1.35],[51.8,-1.3],[52.2,-1.34],[52.6,-1.31],[53.0,-1.28],[53.4,-1.32],[53.8,-1.27],[54.2,-1.3],[54.6,-1.26],[55.0,-1.29],[55.4,-1.24],[55.8,-1.27],[56.2,-1.22],[56.6,-1.25],[57.0,-1.2],[57.4,-1.23],[57.8,-1.19],[58.2,-1.21],[58.6,-1.17],[59.0,-1.2],[59.4,-1.16],[59.8,-1.18],[60.2,-1.15],[60.6,-1.08],
  [40.4,-1.43],[40.8,-1.39],[41.2,-1.44],[41.6,-1.42],[42.0,-1.41],[42.4,-1.45],[42.8,-1.4],[43.2,-1.43],[43.6,-1.46],[44.0,-1.41],[44.4,-1.45],[44.8,-1.42],[45.2,-1.4],[45.6,-1.44],[46.0,-1.41],[46.4,-1.38],[46.8,-1.42],[47.2,-1.39],[47.6,-1.35],[48.0,-1.38],[48.4,-1.34],[48.8,-1.37],[49.2,-1.32],[49.6,-1.35],[50.0,-1.3],[50.4,-1.34],[50.8,-1.29],[51.2,-1.33],[51.6,-1.28],[52.0,-1.32],[52.4,-1.27],[52.8,-1.3],[53.2,-1.25],[53.6,-1.29],[54.0,-1.24],[54.4,-1.27],[54.8,-1.22],[55.2,-1.26],[55.6,-1.21],[56.0,-1.24],[56.4,-1.19],[56.8,-1.22],[57.2,-1.17],[57.6,-1.2],[58.0,-1.16],[58.4,-1.19],[58.8,-1.14],[59.2,-1.17],[59.6,-1.13],[60.0,-1.11],[60.4,-1.13],
  [49.2,-1.17],[50.6,-1.17],[52.6,-1.04],[49.9,-1.23],[51.9,-1.28],[54.0,-1.41],[57.5,-1.37],[57.2,-1.18],
  [61.0,-1.1],[61.7,-1.14],[62.1,-1.16],[62.8,-1.23],[63.1,-1.12],[63.5,-1.19],[63.8,-1.14],[64.2,-1.02],[64.5,-1.04],[64.9,-1.16],[65.2,-1.2],[65.9,-1.12],[66.2,-1.07],[66.6,-1.2],[67.0,-1.13],[67.3,-1.24],[67.6,-1.22],[68.3,-1.34],[69.0,-1.12],[69.4,-1.16],[69.7,-1.21],[70.1,-1.26],[70.8,-1.29],[71.5,-1.12],[71.8,-1.16],[72.2,-1.2],[72.5,-1.24],[72.9,-1.27],[73.6,-1.3],[73.9,-1.34],[74.3,-1.14],[75.0,-1.18],[75.3,-1.22],[76.0,-1.26],[76.4,-1.3],[76.7,-1.34],[77.1,-1.38],[78.1,-1.17],[78.5,-1.21],[78.8,-1.26],[79.5,-1.3],[79.9,-1.37],[80.2,-1.39],[81.2,-1.17],[81.6,-1.21],[81.9,-1.28],[82.3,-1.31],[82.6,-1.35],[83.3,-1.38],[84.0,-1.43],[84.3,-1.5],[84.7,-1.62],
  [60.8,-1.15],[61.3,-1.09],[61.9,-1.2],[62.4,-1.13],[62.9,-1.18],[63.3,-1.25],[64.0,-1.1],[64.7,-1.13],[65.0,-1.24],[65.5,-1.17],[66.0,-1.26],[66.8,-1.1],[67.1,-1.17],[67.9,-1.28],[68.6,-1.2],[68.9,-1.3],[69.8,-1.14],[70.4,-1.23],[70.5,-1.18],[71.1,-1.31],[71.3,-1.2],[72.0,-1.25],[72.7,-1.14],[73.2,-1.22],[73.4,-1.36],[74.0,-1.27],[74.6,-1.2],[75.5,-1.28],[75.7,-1.16],[76.2,-1.23],[77.4,-1.31],[77.7,-1.2],[78.3,-1.33],[79.0,-1.24],[79.2,-1.35],[80.6,-1.3],[80.9,-1.21],[81.4,-1.34],[82.0,-1.25],[82.9,-1.3],[83.6,-1.4],[83.0,-1.35],[84.5,-1.45],[85.0,-1.3],
  [63.1,-0.88],[61.7,-0.87],[63.8,-0.8],[66.6,-0.84],[66.3,-0.7],[69.4,-0.9],[69.4,-0.95],[72.3,-0.85],[72.3,-0.88],[72.3,-1.0],[75.0,-0.88],[75.0,-1.0],[78.1,-0.79],[78.1,-1.0],[81.6,-0.96],[81.6,-0.99],[81.6,-1.06],[84.7,-0.88],[84.7,-1.0],[84.7,-1.12],[88.9,-0.99],[88.9,-1.04],[88.9,-1.16],[93.4,-1.05],[93.4,-1.3],[98.5,-0.94],
  [85.4,-1.22],[85.7,-1.18],[86.1,-1.29],[86.5,-1.35],[86.8,-1.41],[87.2,-1.44],[87.5,-1.45],[87.9,-1.49],[88.2,-1.52],[88.6,-1.55],[88.9,-1.54],[89.3,-1.57],[89.7,-1.52],[90.0,-1.55],[90.4,-1.53],[90.8,-1.56],[91.2,-1.58],[91.6,-1.55],[92.0,-1.57],[92.4,-1.59],[92.8,-1.57],[93.2,-1.6],[93.6,-1.58],[94.0,-1.61],[94.4,-1.59],[94.8,-1.6],[95.2,-1.62],[95.6,-1.6],[96.0,-1.63],[96.4,-1.61],[96.8,-1.62],[97.2,-1.6],[97.6,-1.64],[98.0,-1.62],[98.4,-1.63],[98.8,-1.65],[99.2,-1.63],[99.6,-1.62],[100,-1.68],
  [88.4,-1.5],[89.0,-1.53],[89.5,-1.55],[90.2,-1.51],[91.0,-1.57],[91.8,-1.54],[92.6,-1.58],[93.4,-1.56],[94.2,-1.59],[95.0,-1.58],[95.8,-1.62],[96.6,-1.59],[97.4,-1.62],[98.2,-1.64],[99.0,-1.61],[99.8,-1.65]];

// ---------- styling ----------
const colors = {LE1:'#ff00ff', LE2:'#0000ff', LE3:'#ff0000', LE4:'#00ff00'};
const AX = '#4d4d4d', TXT = '#262626', GRID = '#e3e3e3';
const SANS = 'Liberation Sans, Arial, sans-serif';
const SERIF = 'Liberation Serif, Times New Roman, serif';

const series = [];
function addCurves(segs, name, gi, width) {
  segs.forEach(seg => series.push({type:'line', name, xAxisIndex:gi, yAxisIndex:gi, data:seg,
    symbol:'none', showSymbol:false, silent:true, animation:false,
    lineStyle:{color:colors[name], width}, itemStyle:{color:colors[name]}}));
}
function addDots(pts, name, gi, extra) {
  series.push(Object.assign({type:'scatter', name, xAxisIndex:gi, yAxisIndex:gi, data:pts,
    symbol:'circle', symbolSize:3.2, silent:true, animation:false,
    itemStyle:{color:colors[name]}}, extra || {}));
}
const zeroLine = {markLine:{symbol:['none','none'], silent:true, animation:false, label:{show:false},
  lineStyle:{color:'#000', width:1, type:'solid'}, data:[{yAxis:0}]}};

// chart (a)
addCurves(pLE1Curves, 'LE1', 0, 2.4); addDots(pLE1Dots, 'LE1', 0);
addCurves(pLE2Curves, 'LE2', 0, 3.2); addDots(pLE2Dots, 'LE2', 0);
addCurves(pLE3Curves, 'LE3', 0, 2.2); addDots(pLE3Dots, 'LE3', 0);
addCurves(pLE4Curves, 'LE4', 0, 2.4); addDots(pLE4Dots, 'LE4', 0, zeroLine);
// chart (b)
addCurves(kLE1Curves, 'LE1', 1, 2); addDots(kLE1Dots, 'LE1', 1);
addCurves(kLE2Curves, 'LE2', 1, 2.4); addDots(kLE2Dots, 'LE2', 1);
addCurves(kLE3Curves, 'LE3', 1, 2.2); addDots(kLE3Dots, 'LE3', 1);
addCurves(kLE4Curves, 'LE4', 1, 2.4); addDots(kLE4Dots, 'LE4', 1, zeroLine);

function xAxisMain(gi, min, max, ticks, name) {
  return {type:'value', gridIndex:gi, min, max, position:'bottom',
    name, nameLocation:'middle', nameGap:37, nameTextStyle:{fontSize:20, color:TXT, fontFamily:SANS},
    axisLine:{show:true, onZero:false, lineStyle:{color:AX, width:1}},
    axisTick:{show:true, inside:true, length:5, customValues:ticks, lineStyle:{color:AX}},
    axisLabel:{customValues:ticks, color:TXT, fontSize:20, fontFamily:SANS, margin:12},
    splitLine:{show:true, lineStyle:{color:GRID, width:1}}};
}
function xAxisTop(gi, min, max, ticks) {
  return {type:'value', gridIndex:gi, min, max, position:'top',
    axisLine:{show:true, onZero:false, lineStyle:{color:AX, width:1}},
    axisTick:{show:true, inside:true, length:5, customValues:ticks, lineStyle:{color:AX}},
    axisLabel:{show:false, customValues:ticks}, splitLine:{show:false}};
}
function yAxisMain(gi, min, max, ticks, gap) {
  return {type:'value', gridIndex:gi, min, max, position:'left',
    name:'LEs', nameLocation:'middle', nameGap:gap, nameRotate:90,
    nameTextStyle:{fontSize:20, color:TXT, fontFamily:SANS},
    axisLine:{show:true, onZero:false, lineStyle:{color:AX, width:1}},
    axisTick:{show:true, inside:true, length:5, customValues:ticks, lineStyle:{color:AX}},
    axisLabel:{customValues:ticks, color:TXT, fontSize:20, fontFamily:SANS, margin:7},
    splitLine:{show:true, lineStyle:{color:GRID, width:1}}};
}
function yAxisRight(gi, min, max, ticks) {
  return {type:'value', gridIndex:gi, min, max, position:'right',
    axisLine:{show:true, onZero:false, lineStyle:{color:AX, width:1}},
    axisTick:{show:true, inside:true, length:5, customValues:ticks, lineStyle:{color:AX}},
    axisLabel:{show:false, customValues:ticks}, splitLine:{show:false}};
}
function legend(left, top, padding, gap) {
  return {show:true, orient:'vertical', left, top, padding, itemGap:gap,
    itemWidth:26, itemHeight:1.4, icon:'rect', selectedMode:false,
    backgroundColor:'#fff', borderColor:'#333', borderWidth:0.8, borderRadius:0,
    textStyle:{fontSize:14, lineHeight:14, fontFamily:SANS},
    data: seriesNames.map(n => ({name:n, itemStyle:{color:colors[n]}, textStyle:{color:colors[n]}}))};
}
function caption(x, text) {
  const f = {fontSize:25, fontFamily:SERIF, fill:'#000'};
  return {type:'text', x, y:463, silent:true, style:Object.assign({text, align:'center', verticalAlign:'middle',
    rich:{b:Object.assign({fontWeight:'bold'}, f), i:Object.assign({fontStyle:'italic'}, f)}}, f)};
}

const chart = echarts.init(document.getElementById('c'), null, {renderer:'canvas'});
chart.setOption({
  animation:false,
  backgroundColor:'#fff',
  grid:[{left:74, top:13, width:479, height:366}, {left:698, top:13, width:479, height:366}],
  xAxis:[xAxisMain(0, 0.1, 10, pXTicks, 'p'), xAxisMain(1, 0, 100, kXTicks, 'k'),
         xAxisTop(0, 0.1, 10, pXTicks), xAxisTop(1, 0, 100, kXTicks)],
  yAxis:[yAxisMain(0, -11.05, 1.1, pYTicks, 44.5), yAxisMain(1, -1.685, 0.64, kYTicks, 49),
         yAxisRight(0, -11.05, 1.1, pYTicks), yAxisRight(1, -1.685, 0.64, kYTicks)],
  legend:[legend(87, 227, [9,5,10,19], 9.3), legend(698, 13, [5,9,0,9], 7.0)],
  series,
  graphic:[caption(313, captionA), caption(937, captionB)]
});
</script></body></html>
